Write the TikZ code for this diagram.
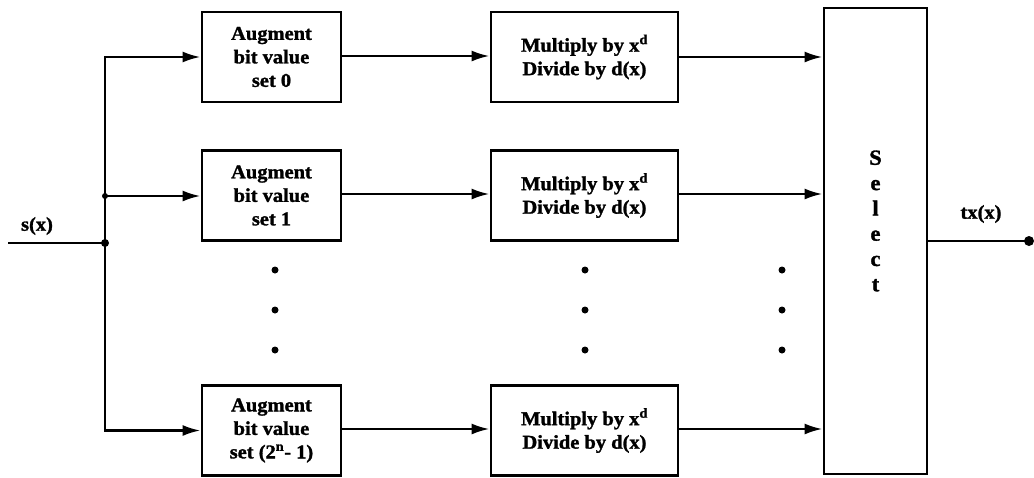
\documentclass[tikz,border=0pt]{standalone}
\usepackage{fontspec}
\setmainfont{Liberation Serif}
\newfontfamily\figfont{Liberation Serif}[FakeStretch=1.05,FakeBold=1.5]
\usetikzlibrary{arrows.meta}
\begin{document}
\begin{tikzpicture}[x=1pt,y=-1pt,
  line width=2.6pt,
  box/.style={draw,line width=2.8pt,inner sep=0pt,align=center,
    font=\figfont\bfseries\fontsize{19.5}{23.5}\selectfont},
  aug/.style={box,minimum width=139pt,minimum height=90pt},
  mul/.style={box,minimum width=187pt,minimum height=90pt},
  arr/.style={-{Latex[length=18pt,width=11pt]}},
  lbl/.style={font=\figfont\bfseries\fontsize{19.5}{23.5}\selectfont,inner sep=0pt},
  dotc/.style={circle,fill,inner sep=0pt,minimum size=7pt}]
\useasboundingbox (0,0) rectangle (1034,477);
% boxes
\node[aug] (aug0) at (271.5,57) {Augment\\bit value\\set 0};
\node[aug] (aug1) at (271.5,195.5) {Augment\\bit value\\set 1};
\node[aug] (aug2) at (271.5,430.5) {Augment\\bit value\\set (2\textsuperscript{n}- 1)};
\node[mul] (mul0) at (584.5,57) {Multiply by x\textsuperscript{d}\\Divide by d(x)};
\node[mul] (mul1) at (584.5,195.5) {Multiply by x\textsuperscript{d}\\Divide by d(x)};
\node[mul] (mul2) at (584.5,430.5) {Multiply by x\textsuperscript{d}\\Divide by d(x)};
\node[draw,line width=2.8pt,minimum width=103pt,minimum height=466pt,inner sep=0pt] (sel) at (875.5,241) {};
\node[lbl,align=center,font=\figfont\bfseries\fontsize{21.5}{25.3}\selectfont] (selt) at (875.5,221) {S\\e\\l\\e\\c\\t};
% input
\coordinate (in) at (8,243);
\coordinate (j) at (105,243);
\coordinate (jm) at (105,196);
\node[lbl] (sx) at (37,226) {s(x)};
\draw (in) -- (j);
\draw[arr] (j) |- (aug0.west);
\draw[arr] (j) |- (aug2.west);
\draw[arr] (jm) -- (jm -| aug1.west);
\node[dotc,minimum size=8pt] at (j) {};
\node[dotc,minimum size=6pt] at (jm) {};
% middle arrows
\draw[arr] ([yshift=1pt]aug0.east) -- ([yshift=1pt]mul0.west);
\draw[arr] ([yshift=1.5pt]aug1.east) -- ([yshift=1.5pt]mul1.west);
\draw[arr] ([yshift=1.5pt]aug2.east) -- ([yshift=1.5pt]mul2.west);
\draw[arr] (mul0.east) -- (sel.west |- mul0.east);
\draw[arr] ([yshift=1.5pt]mul1.east) -- ([yshift=1.5pt]sel.west |- mul1.east);
\draw[arr] ([yshift=1.5pt]mul2.east) -- ([yshift=1.5pt]sel.west |- mul2.east);
% output
\coordinate (out) at (1029,241);
\draw (sel.east) -- (out);
\node[dotc,minimum size=10pt] at (out) {};
\node[lbl] (tx) at (981,214) {tx(x)};
% ellipsis dots
\foreach \x in {275,585,782}{
  \foreach \y in {270,310,350}{
    \node[dotc] at (\x,\y) {};
  }
}
\end{tikzpicture}
\end{document}
